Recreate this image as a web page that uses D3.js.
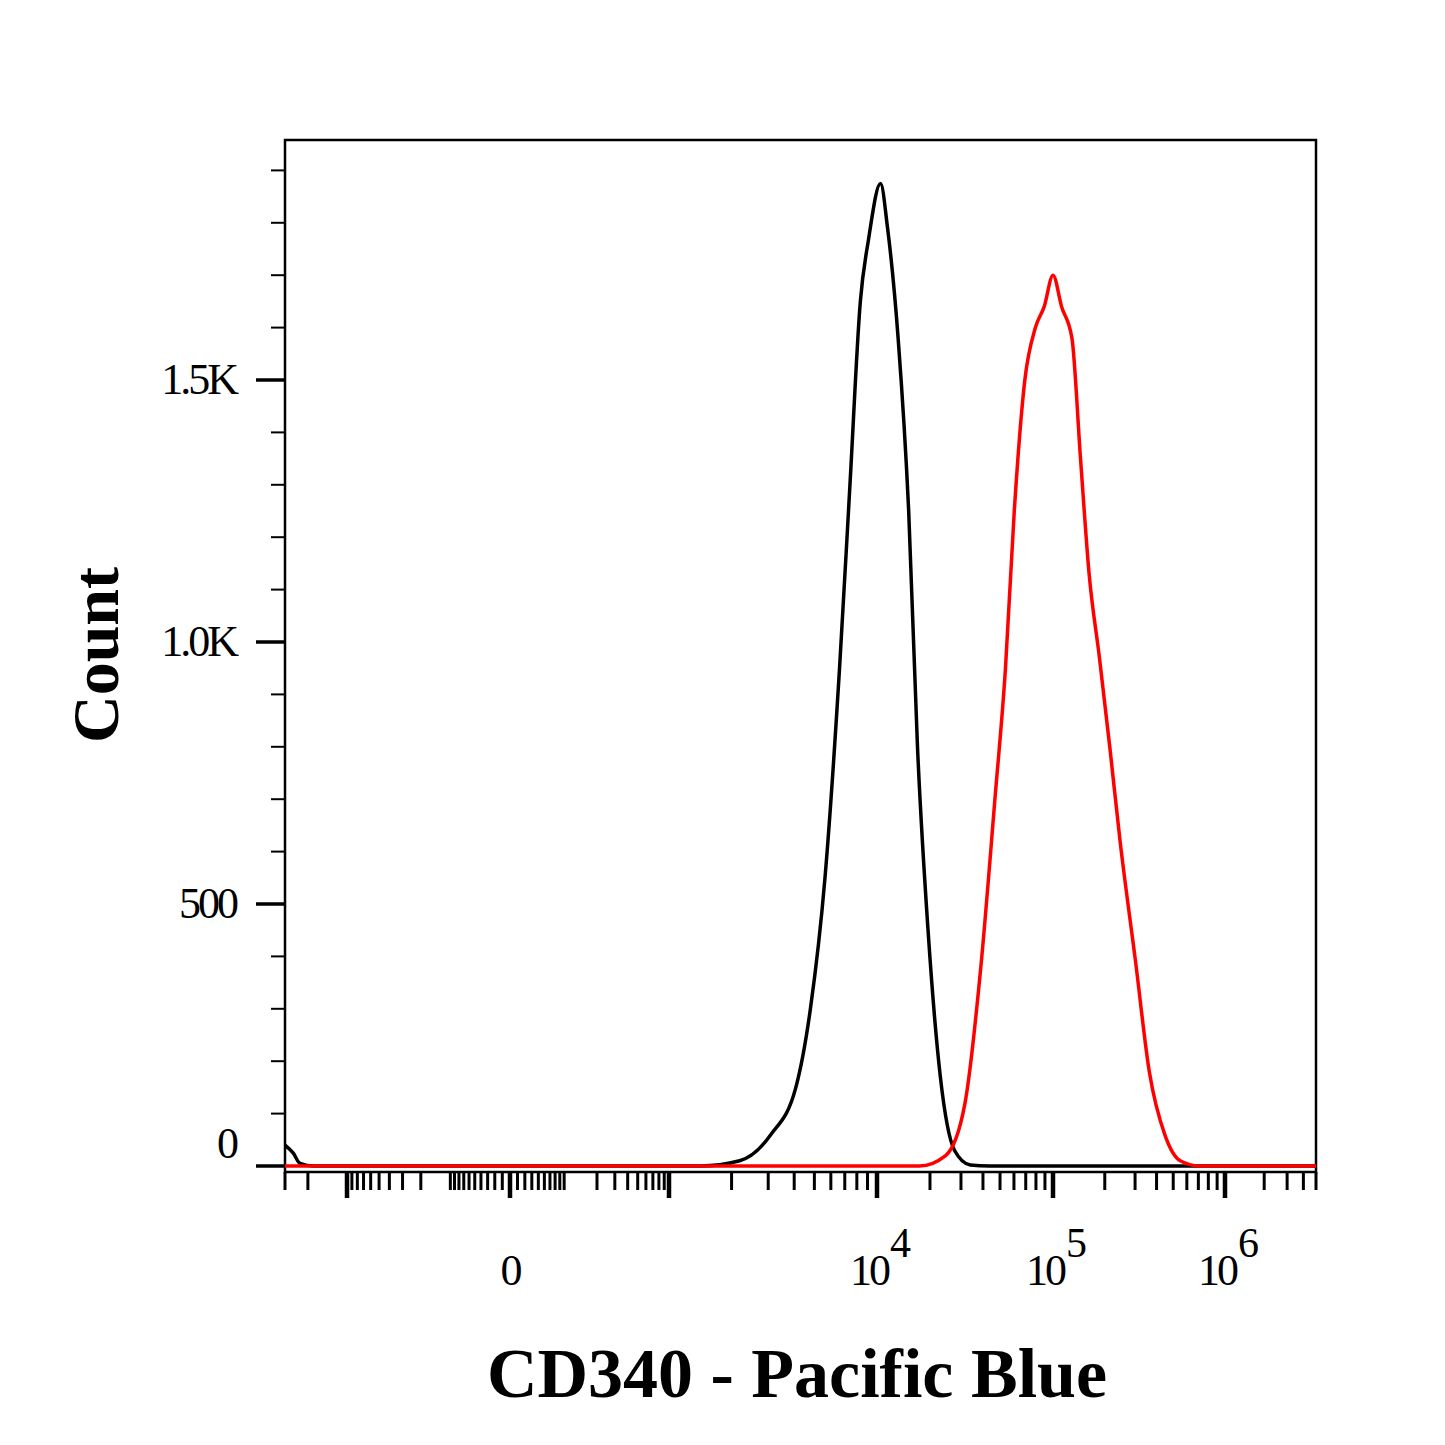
<!DOCTYPE html>
<html><head><meta charset="utf-8">
<script src="https://cdn.jsdelivr.net/npm/d3@7"></script>
<style>body{margin:0;background:#fff}text{font-family:"Liberation Serif",serif}</style>
</head><body><div id="chart"></div>
<script>
// intensities as log10 values, counts
const blackLog = [3.15,3.34,3.49,3.61,3.68,3.75,3.82,3.87,3.92,3.96,4.02,4.06,4.12,4.18,4.23,4.29,4.36,4.44,4.53,4.64,6.7];
const blackCount = [0,10,60,150,300,550,950,1300,1650,1770,1875,1790,1580,1250,800,450,170,30,2,0,0];
const redLog = [4.24,4.39,4.50,4.59,4.67,4.73,4.78,4.84,4.90,4.95,5.0,5.05,5.11,5.16,5.21,5.27,5.33,5.39,5.48,5.56,5.65,5.74,5.85,6.7];
const redCount = [0,20,120,380,700,950,1250,1500,1600,1640,1700,1640,1580,1350,1130,970,800,620,390,180,60,10,0,0];
const blackLeftVal = [-3000,-2600,-2300,-1800];
const blackLeftCount = [40,25,5,0];
const yTicks = [0,500,1000,1500];
const yTickLabels = ["0","500","1.0K","1.5K"];
const xLabels = [{v:0,base:"0",exp:""},{v:1e4,base:"10",exp:"4"},{v:1e5,base:"10",exp:"5"},{v:1e6,base:"10",exp:"6"}];

const W = 1445, H = 1445;
const svg = d3.select("#chart").append("svg").attr("width", W).attr("height", H);
const L = 285, R = 1316, T = 140, B = 1172;

// biexponential-like axis: asinh transform, then piecewise linear between anchors
const tr = v => Math.asinh(v / 60);
const anchorsV = [-3000, -1000, 0, 1000, 1e4, 1e5, 1e6, 5e6];
const anchorsPx = [285, 347, 510, 669, 877, 1053, 1225, 1316];
const xs = d3.scaleLinear().domain(anchorsV.map(tr)).range(anchorsPx);
const x = v => xs(tr(v));
const y = d3.scaleLinear().domain([0, 1958]).range([1166, T]);

svg.append("rect").attr("x", L).attr("y", T).attr("width", R - L).attr("height", B - T)
  .attr("fill", "none").attr("stroke", "#000").attr("stroke-width", 2.5);

// y ticks
const yg = svg.append("g");
d3.range(0, 1901, 100).forEach(v => {
  const major = v % 500 === 0;
  yg.append("line").attr("x1", major ? 256 : 271).attr("x2", L).attr("y1", y(v)).attr("y2", y(v))
    .attr("stroke", "#000").attr("stroke-width", major ? 3.5 : 2);
});
yTicks.forEach((v, i) => yg.append("text").attr("x", 236).attr("y", y(v) + 14 - (v === 0 ? 22 : 0))
  .attr("text-anchor", "end").attr("font-size", 44).attr("letter-spacing", -3).text(yTickLabels[i]));

// x ticks
const xg = svg.append("g");
const majors = [-1000, 0, 1000, 1e4, 1e5, 1e6];
const minors = [];
[100, 1000, 1e4, 1e5].forEach(d => d3.range(2, 10).forEach(k => minors.push(k * d)));
d3.range(1, 10).forEach(k => { minors.push(-k * 100); minors.push(k * 10); minors.push(-k * 10); });
d3.range(2, 4).forEach(k => minors.push(-k * 1000));
d3.range(2, 6).forEach(k => minors.push(k * 1e6));
minors.filter(v => x(v) >= L && x(v) <= R).forEach(v => xg.append("line")
  .attr("x1", x(v)).attr("x2", x(v)).attr("y1", B).attr("y2", B + 18).attr("stroke", "#000").attr("stroke-width", 3));
majors.forEach(v => xg.append("line")
  .attr("x1", x(v)).attr("x2", x(v)).attr("y1", B).attr("y2", B + 26).attr("stroke", "#000").attr("stroke-width", 4.5));
xLabels.forEach(d => {
  const t = xg.append("text").attr("x", x(d.v) + (d.exp ? 2 : 0)).attr("y", 1285).attr("text-anchor", "middle")
    .attr("font-size", 44).attr("letter-spacing", -3).text(d.base);
  if (d.exp) t.append("tspan").attr("dy", -28).attr("dx", 2).attr("font-size", 42).text(d.exp);
});

// curves
const line = d3.line().x(d => x(d[0])).y(d => y(d[1])).curve(d3.curveMonotoneX);
const blackData = blackLeftVal.map((v, i) => [v, blackLeftCount[i]])
  .concat([[Math.pow(10, 3.1), 0]])
  .concat(blackLog.map((l, i) => [Math.pow(10, l), blackCount[i]]));
const redData = [[-3000, 0]].concat(redLog.map((l, i) => [Math.pow(10, l), redCount[i]]));
svg.append("path").datum(blackData).attr("d", line)
  .attr("fill", "none").attr("stroke", "#000").attr("stroke-width", 3.5);
svg.append("path").datum(redData).attr("d", line)
  .attr("fill", "none").attr("stroke", "#ff0000").attr("stroke-width", 3.5);

// axis titles
svg.append("text").attr("x", 797).attr("y", 1397).attr("text-anchor", "middle")
  .attr("font-size", 70).attr("font-weight", "bold").text("CD340 - Pacific Blue");
svg.append("text").attr("transform", "translate(118,655) rotate(-90)").attr("text-anchor", "middle")
  .attr("font-size", 66).attr("font-weight", "bold").text("Count");
</script></body></html>
